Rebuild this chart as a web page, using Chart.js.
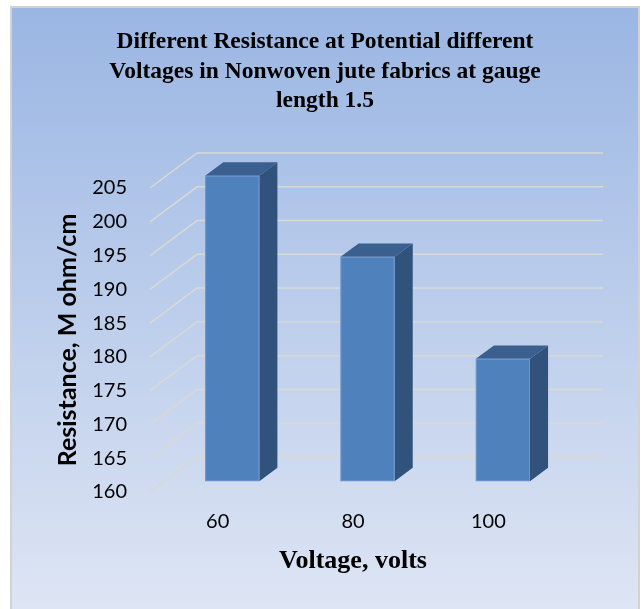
<!DOCTYPE html>
<html>
<head>
<meta charset="utf-8">
<script src="https://cdn.jsdelivr.net/npm/chart.js@4.4.0/dist/chart.umd.min.js"></script>
<style>
html,body{margin:0;padding:0;background:#fff;}
canvas{display:block;}
</style>
</head>
<body>
<canvas id="c" width="642" height="609"></canvas>
<script>
// ---- data ----
const categories = ['60', '80', '100'];
const resistance = [205.2, 193.2, 178.1];
const yTickValues = [160, 165, 170, 175, 180, 185, 190, 195, 200, 205];
const titleLines = [
  'Different Resistance at Potential different',
  'Voltages in Nonwoven jute fabrics at gauge',
  'length 1.5'
];
const xAxisTitle = 'Voltage, volts';
const yAxisTitle = 'Resistance, M ohm/cm';

// ---- 3D look ----
const DEPTH = {x: 47, y: 35};
const BAR_FRONT = 0.31, BAR_BACK = 0.695;

function poly(ctx, pts, fill) {
  ctx.beginPath();
  ctx.moveTo(pts[0][0], pts[0][1]);
  for (let i = 1; i < pts.length; i++) ctx.lineTo(pts[i][0], pts[i][1]);
  ctx.closePath();
  ctx.fillStyle = fill;
  ctx.fill();
}

const backgroundPlugin = {
  id: 'bgframe',
  beforeDraw(chart) {
    const {ctx, width, height} = chart;
    ctx.save();
    ctx.fillStyle = '#fff';
    ctx.fillRect(0, 0, width, height);
    const g = ctx.createLinearGradient(0, 7, 0, height);
    g.addColorStop(0, '#9ab6e3');
    g.addColorStop(1, '#dee5f4');
    ctx.fillStyle = g;
    ctx.fillRect(11, 7, 628, height - 7);
    ctx.strokeStyle = '#d2d2d2';
    ctx.lineWidth = 2;
    ctx.strokeRect(11, 7, 628, height + 10);
    ctx.fillStyle = '#000';
    ctx.font = 'bold 23.5px "Liberation Serif"';
    ctx.textAlign = 'center';
    ctx.textBaseline = 'alphabetic';
    titleLines.forEach((t, i) => ctx.fillText(t, 325, 48 + i * 29.5));
    ctx.restore();
  }
};

const wallsPlugin = {
  id: 'walls3d',
  beforeDatasetsDraw(chart) {
    const {ctx, chartArea: {left, right}} = chart;
    const ys = chart.scales.y;
    ctx.save();
    ctx.strokeStyle = '#d9d9d4';
    ctx.lineWidth = 1.5;
    ys.ticks.forEach(t => {
      const y = ys.getPixelForValue(t.value);
      ctx.beginPath();
      ctx.moveTo(left, y);
      ctx.lineTo(left + DEPTH.x, y - DEPTH.y);
      ctx.lineTo(right + DEPTH.x, y - DEPTH.y);
      ctx.stroke();
    });
    ctx.restore();
  },
  afterDatasetsDraw(chart) {
    const ctx = chart.ctx;
    const ys = chart.scales.y;
    const floor = ys.getPixelForValue(ys.min);
    const meta = chart.getDatasetMeta(0);
    ctx.save();
    meta.data.forEach(bar => {
      const {x, y, width} = bar.getProps(['x', 'y', 'width'], true);
      const ox = DEPTH.x * BAR_FRONT, oy = -DEPTH.y * BAR_FRONT;
      const dx = DEPTH.x * (BAR_BACK - BAR_FRONT), dy = -DEPTH.y * (BAR_BACK - BAR_FRONT);
      const x0 = x - width / 2 + ox, x1 = x + width / 2 + ox;
      const yt = y + oy, yb = floor + oy;
      poly(ctx, [[x1, yt], [x1 + dx, yt + dy], [x1 + dx, yb + dy], [x1, yb]], '#30527b');
      poly(ctx, [[x0, yt], [x1, yt], [x1 + dx, yt + dy], [x0 + dx, yt + dy]], '#3b5f8e');
      ctx.fillStyle = '#4f81bd';
      ctx.fillRect(x0, yt, x1 - x0, yb - yt);
      ctx.strokeStyle = 'rgba(120,160,210,0.7)';
      ctx.lineWidth = 1;
      ctx.strokeRect(x0 + 0.5, yt + 0.5, x1 - x0 - 1, yb - yt - 1);
    });
    ctx.restore();
  }
};

function build() {
  new Chart(document.getElementById('c'), {
    type: 'bar',
    data: {
      labels: categories,
      datasets: [{
        data: resistance,
        backgroundColor: 'rgba(0,0,0,0)',
        borderWidth: 0,
        categoryPercentage: 1,
        barPercentage: 0.4
      }]
    },
    options: {
      responsive: false,
      devicePixelRatio: 1,
      animation: false,
      events: [],
      layout: {padding: {top: 188, right: 86, bottom: 0, left: 0}},
      plugins: {legend: {display: false}, tooltip: {enabled: false}, title: {display: false}},
      scales: {
        x: {
          afterFit: s => { s.height = 117; },
          grid: {display: false, drawTicks: false},
          border: {display: false},
          ticks: {padding: 18, color: '#000', font: {family: 'Lato', size: 20}},
          title: {display: true, text: xAxisTitle, color: '#000',
                  font: {family: 'Liberation Serif', size: 26, weight: 'bold'},
                  padding: {top: 0, bottom: 32}}
        },
        y: {
          min: 160, max: 205,
          afterBuildTicks: s => { s.ticks = yTickValues.map(v => ({value: v})); },
          afterFit: s => { s.width = 150; },
          grid: {display: false, drawTicks: false},
          border: {display: false},
          ticks: {padding: 23, color: '#000', font: {family: 'Lato', size: 20}},
          title: {display: true, text: yAxisTitle, color: '#000',
                  font: {family: 'Lato', size: 25, weight: 'bold'},
                  padding: {top: 53, bottom: 0}}
        }
      }
    },
    plugins: [backgroundPlugin, wallsPlugin]
  });
}

const fontLoads = [
  'bold 23px "Liberation Serif"', 'bold 26px "Liberation Serif"',
  '20px Lato', 'bold 25px Lato'
].map(f => document.fonts.load(f).catch(() => null));
Promise.all(fontLoads).then(build, build);
</script>
</body>
</html>
